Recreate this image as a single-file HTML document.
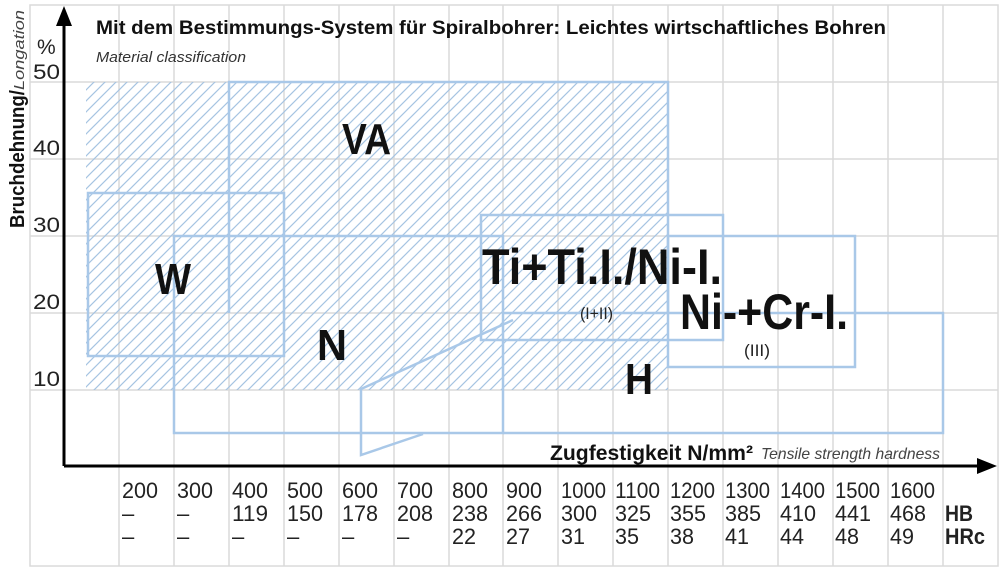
<!DOCTYPE html>
<html><head><meta charset="utf-8"><style>
html,body{margin:0;padding:0;background:#fff}
svg{display:block}
</style></head><body>
<svg width="1000" height="570" viewBox="0 0 1000 570" xmlns="http://www.w3.org/2000/svg" font-family="Liberation Sans,sans-serif">
<defs>
<pattern id="h" patternUnits="userSpaceOnUse" width="11" height="11">
<path d="M-1 12L12 -1M-1 1L1 -1M10 12L12 10" stroke="#a6c4e2" stroke-width="1.2"/>
</pattern>
</defs>
<g stroke="#dadada" stroke-width="1.5" fill="none">
<rect x="30" y="5" width="968" height="561"/>
<path d="M119 5V566M174 5V566M229 5V566M284 5V566M339 5V566M394 5V566M449 5V566M503 5V566M558 5V566M613 5V566M668 5V566M723 5V566M778 5V566M833 5V566M888 5V566M943 5V566"/>
<path d="M30 82H998M30 159H998M30 236H998M30 313H998M30 390H998"/>
</g>
<rect x="86" y="82" width="582" height="308" fill="url(#h)"/>
<g stroke="#a9c8e8" stroke-width="2.5" fill="none">
<polyline points="229,313 229,82 668,82 668,313"/>
<rect x="88" y="193" width="196" height="163"/>
<rect x="174" y="236" width="329" height="197"/>
<rect x="481" y="215" width="242" height="125"/>
<rect x="668" y="236" width="187" height="131"/>
<polyline points="503,313 943,313 943,433 503,433"/>
<polyline points="513,320 361,389 361,455 423,434"/>
</g>
<g stroke="#000" stroke-width="3" fill="#000">
<line x1="64" y1="466" x2="64" y2="24"/>
<line x1="64" y1="466" x2="980" y2="466"/>
<polygon points="64,6 56,26 72,26" stroke="none"/>
<polygon points="997,466 977,458 977,474" stroke="none"/>
</g>
<text x="96" y="34" font-weight="bold" font-size="19" fill="#111" textLength="790" lengthAdjust="spacingAndGlyphs">Mit dem Bestimmungs-System für Spiralbohrer: Leichtes wirtschaftliches Bohren</text>
<text x="96" y="62" font-style="italic" font-size="15" fill="#333" textLength="150" lengthAdjust="spacingAndGlyphs">Material classification</text>
<text transform="translate(24,228) rotate(-90)" font-size="20" fill="#111"><tspan font-weight="bold" textLength="138" lengthAdjust="spacingAndGlyphs">Bruchdehnung/</tspan><tspan font-style="italic" font-size="15" fill="#444" textLength="80" lengthAdjust="spacingAndGlyphs">Longation</tspan></text>
<g font-size="21" fill="#222">
<text x="37" y="54">%</text>
<text x="33" y="79" textLength="27" lengthAdjust="spacingAndGlyphs">50</text>
<text x="33" y="155" textLength="27" lengthAdjust="spacingAndGlyphs">40</text>
<text x="33" y="232" textLength="27" lengthAdjust="spacingAndGlyphs">30</text>
<text x="33" y="309" textLength="27" lengthAdjust="spacingAndGlyphs">20</text>
<text x="33" y="386" textLength="27" lengthAdjust="spacingAndGlyphs">10</text>
</g>
<g font-weight="bold" fill="#111">
<text x="342" y="154" font-size="44" textLength="49" lengthAdjust="spacingAndGlyphs">VA</text>
<text x="155" y="294" font-size="44" textLength="36" lengthAdjust="spacingAndGlyphs">W</text>
<text x="317" y="360" font-size="44" textLength="30" lengthAdjust="spacingAndGlyphs">N</text>
<text x="625" y="394" font-size="44" textLength="28" lengthAdjust="spacingAndGlyphs">H</text>
<text x="482" y="284" font-size="50" textLength="240" lengthAdjust="spacingAndGlyphs">Ti+Ti.I./Ni-I.</text>
<text x="680" y="329" font-size="50" textLength="168" lengthAdjust="spacingAndGlyphs">Ni-+Cr-I.</text>
</g>
<g font-size="17" fill="#222">
<text x="580" y="319" textLength="33" lengthAdjust="spacingAndGlyphs">(I+II)</text>
<text x="744" y="356" textLength="26" lengthAdjust="spacingAndGlyphs">(III)</text>
</g>
<text x="550" y="460" font-weight="bold" font-size="21" fill="#111" textLength="203" lengthAdjust="spacingAndGlyphs">Zugfestigkeit N/mm²</text>
<text x="761" y="459" font-style="italic" font-size="16" fill="#444" textLength="179" lengthAdjust="spacingAndGlyphs">Tensile strength hardness</text>
<g font-size="22" fill="#222">
<text x="122" y="498" textLength="36" lengthAdjust="spacingAndGlyphs">200</text><text x="122" y="521">–</text><text x="122" y="544">–</text>
<text x="177" y="498" textLength="36" lengthAdjust="spacingAndGlyphs">300</text><text x="177" y="521">–</text><text x="177" y="544">–</text>
<text x="232" y="498" textLength="36" lengthAdjust="spacingAndGlyphs">400</text><text x="232" y="521" textLength="36" lengthAdjust="spacingAndGlyphs">119</text><text x="232" y="544">–</text>
<text x="287" y="498" textLength="36" lengthAdjust="spacingAndGlyphs">500</text><text x="287" y="521" textLength="36" lengthAdjust="spacingAndGlyphs">150</text><text x="287" y="544">–</text>
<text x="342" y="498" textLength="36" lengthAdjust="spacingAndGlyphs">600</text><text x="342" y="521" textLength="36" lengthAdjust="spacingAndGlyphs">178</text><text x="342" y="544">–</text>
<text x="397" y="498" textLength="36" lengthAdjust="spacingAndGlyphs">700</text><text x="397" y="521" textLength="36" lengthAdjust="spacingAndGlyphs">208</text><text x="397" y="544">–</text>
<text x="452" y="498" textLength="36" lengthAdjust="spacingAndGlyphs">800</text><text x="452" y="521" textLength="36" lengthAdjust="spacingAndGlyphs">238</text><text x="452" y="544" textLength="24" lengthAdjust="spacingAndGlyphs">22</text>
<text x="506" y="498" textLength="36" lengthAdjust="spacingAndGlyphs">900</text><text x="506" y="521" textLength="36" lengthAdjust="spacingAndGlyphs">266</text><text x="506" y="544" textLength="24" lengthAdjust="spacingAndGlyphs">27</text>
<text x="561" y="498" textLength="45" lengthAdjust="spacingAndGlyphs">1000</text><text x="561" y="521" textLength="36" lengthAdjust="spacingAndGlyphs">300</text><text x="561" y="544" textLength="24" lengthAdjust="spacingAndGlyphs">31</text>
<text x="615" y="498" textLength="45" lengthAdjust="spacingAndGlyphs">1100</text><text x="615" y="521" textLength="36" lengthAdjust="spacingAndGlyphs">325</text><text x="615" y="544" textLength="24" lengthAdjust="spacingAndGlyphs">35</text>
<text x="670" y="498" textLength="45" lengthAdjust="spacingAndGlyphs">1200</text><text x="670" y="521" textLength="36" lengthAdjust="spacingAndGlyphs">355</text><text x="670" y="544" textLength="24" lengthAdjust="spacingAndGlyphs">38</text>
<text x="725" y="498" textLength="45" lengthAdjust="spacingAndGlyphs">1300</text><text x="725" y="521" textLength="36" lengthAdjust="spacingAndGlyphs">385</text><text x="725" y="544" textLength="24" lengthAdjust="spacingAndGlyphs">41</text>
<text x="780" y="498" textLength="45" lengthAdjust="spacingAndGlyphs">1400</text><text x="780" y="521" textLength="36" lengthAdjust="spacingAndGlyphs">410</text><text x="780" y="544" textLength="24" lengthAdjust="spacingAndGlyphs">44</text>
<text x="835" y="498" textLength="45" lengthAdjust="spacingAndGlyphs">1500</text><text x="835" y="521" textLength="36" lengthAdjust="spacingAndGlyphs">441</text><text x="835" y="544" textLength="24" lengthAdjust="spacingAndGlyphs">48</text>
<text x="890" y="498" textLength="45" lengthAdjust="spacingAndGlyphs">1600</text><text x="890" y="521" textLength="36" lengthAdjust="spacingAndGlyphs">468</text><text x="890" y="544" textLength="24" lengthAdjust="spacingAndGlyphs">49</text>
<text x="945" y="521" font-weight="bold" textLength="28" lengthAdjust="spacingAndGlyphs">HB</text>
<text x="945" y="544" font-weight="bold" textLength="40" lengthAdjust="spacingAndGlyphs">HRc</text>
</g>
</svg>
</body></html>
